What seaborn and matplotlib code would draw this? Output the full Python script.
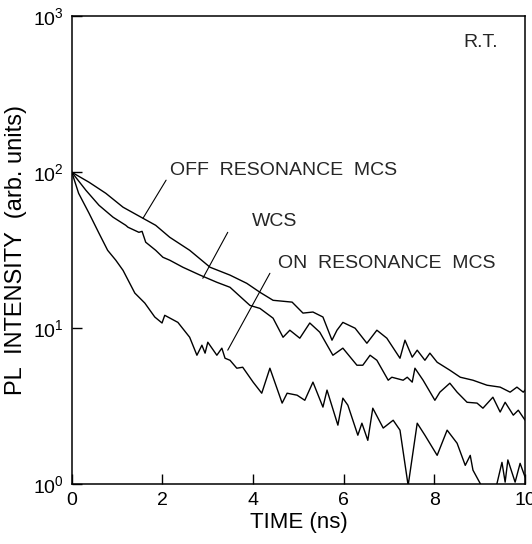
import pandas as pd
import seaborn as sns
import matplotlib
matplotlib.use("Agg")
import matplotlib.pyplot as plt

# Time (ns) and PL intensity (arb. units)
off_t = [0.0, 0.38, 0.75, 1.13, 1.57, 1.85, 2.16, 2.60, 3.05, 3.49, 3.86, 4.15, 4.44, 4.86,
         5.10, 5.32, 5.54, 5.74, 5.85, 5.98, 6.25, 6.51, 6.73, 6.95, 7.24, 7.35, 7.51, 7.62,
         7.79, 7.90, 8.06, 8.34, 8.57, 8.85, 9.16, 9.45, 9.67, 9.82, 9.96, 10.0]
off_i = [100, 86.3, 73.3, 59.7, 50.7, 45.7, 38.3, 31.6, 24.6, 21.9, 19.4, 17.0, 15.1, 14.7,
         12.5, 12.7, 11.8, 8.38, 9.71, 10.9, 10.0, 8.01, 9.71, 8.63, 6.42, 8.38, 6.52, 7.23,
         6.23, 6.92, 6.05, 5.38, 4.85, 4.64, 4.31, 4.19, 3.89, 4.19, 3.89, 4.01]

wcs_t = [0.0, 0.31, 0.60, 0.91, 1.19, 1.24, 1.48, 1.55, 1.63, 1.85, 2.01, 2.16, 2.45, 2.83,
         3.20, 3.49, 3.93, 4.15, 4.44, 4.66, 4.81, 5.03, 5.25, 5.47, 5.76, 5.98, 6.29, 6.42,
         6.58, 6.73, 6.98, 7.06, 7.31, 7.40, 7.51, 7.57, 7.75, 8.01, 8.12, 8.34, 8.50, 8.72,
         8.94, 9.07, 9.29, 9.45, 9.56, 9.74, 9.85, 10.0]
wcs_i = [100, 76.7, 61.4, 51.5, 45.7, 44.4, 41.2, 41.8, 35.6, 31.6, 28.5, 27.3, 24.6, 21.9,
         19.7, 18.3, 14.0, 13.4, 11.6, 8.75, 9.71, 8.63, 10.8, 9.43, 6.71, 7.45, 5.79, 5.79,
         6.71, 6.23, 4.64, 4.85, 4.64, 4.85, 4.51, 5.54, 4.64, 3.45, 3.89, 4.44, 3.89, 3.35,
         3.31, 3.07, 3.61, 2.90, 3.35, 2.77, 2.98, 2.57]

on_t = [0.0, 0.15, 0.38, 0.60, 0.79, 0.97, 1.13, 1.39, 1.61, 1.83, 1.99, 2.05, 2.34, 2.60,
        2.76, 2.87, 2.94, 3.00, 3.20, 3.31, 3.38, 3.49, 3.64, 3.77, 4.00, 4.19, 4.37, 4.64,
        4.75, 4.97, 5.14, 5.32, 5.54, 5.63, 5.87, 5.98, 6.09, 6.31, 6.40, 6.53, 6.64, 6.87,
        7.09, 7.24, 7.42, 7.62, 7.79, 8.06, 8.28, 8.50, 8.68, 8.79, 8.85, 9.01, 9.20, 9.38,
        9.49, 9.56, 9.62, 9.78, 9.89, 10.0]
on_i = [100, 73.3, 54.6, 40.6, 31.6, 27.3, 23.5, 16.8, 14.5, 11.8, 10.8, 12.1, 10.9, 8.75,
        6.71, 7.78, 6.92, 8.13, 6.71, 7.45, 6.42, 6.23, 5.54, 5.62, 4.51, 3.83, 5.54, 3.31,
        3.83, 3.72, 3.45, 4.51, 3.12, 4.01, 2.39, 3.56, 3.21, 2.06, 2.46, 1.91, 3.07, 2.29,
        2.57, 2.22, 0.98, 2.46, 2.06, 1.53, 2.22, 1.83, 1.32, 1.53, 1.23, 1.01, 0.75, 1.01,
        1.38, 1.03, 1.43, 1.03, 1.36, 1.11]

sns.set_theme(style="ticks")
plt.rcParams['font.family'] = ['Liberation Sans', 'DejaVu Sans']
plt.rcParams['mathtext.fontset'] = 'custom'
plt.rcParams['mathtext.rm'] = 'Liberation Sans'
plt.rcParams['mathtext.it'] = 'Liberation Sans'

fig = plt.figure(figsize=(5.32, 5.44), dpi=100)
ax = fig.add_axes([0.135, 0.110, 0.852, 0.860])

for t, i in [(off_t, off_i), (wcs_t, wcs_i), (on_t, on_i)]:
    df = pd.DataFrame({'t': t, 'I': i})
    sns.lineplot(data=df, x='t', y='I', ax=ax, color='black', lw=1.0,
                 estimator=None, sort=False)

ax.set_yscale('log')
ax.set_xlim(0, 10)
ax.set_ylim(1, 1000)
ax.set_xticks([0, 2, 4, 6, 8, 10])
ax.set_xticklabels(['0', '2', '4', '6', '8', '10'])
ax.set_yticks([1, 10, 100, 1000])
ax.set_yticklabels([r'$10^0$', r'$10^1$', r'$10^2$', r'$10^3$'])
ax.minorticks_off()
ax.tick_params(direction='in', length=7, width=1, labelsize=14, colors='black', pad=6)
for s in ax.spines.values():
    s.set_linewidth(1.1)
    s.set_color('black')

ax.set_xlabel('TIME (ns)', fontsize=16, color='black', labelpad=2)
ax.set_ylabel('PL  INTENSITY  (arb. units)', fontsize=17, color='black', labelpad=4)

# labels with pointer lines
ax.text(2.16, 102, 'OFF  RESONANCE  MCS', fontsize=14, va='center', ha='left')
ax.plot([2.08, 1.57], [89, 50.7], color='black', lw=0.8)
ax.text(3.97, 48.5, 'WCS', fontsize=14, va='center', ha='left')
ax.plot([3.44, 2.89], [41.2, 20.9], color='black', lw=0.8)
ax.text(4.55, 26.1, 'ON  RESONANCE  MCS', fontsize=14, va='center', ha='left')
ax.plot([4.37, 3.44], [22.5, 7.23], color='black', lw=0.8)
ax.text(8.63, 681, 'R.T.', fontsize=14, va='center', ha='left')

fig.savefig('out.png', dpi=100, facecolor='white')
